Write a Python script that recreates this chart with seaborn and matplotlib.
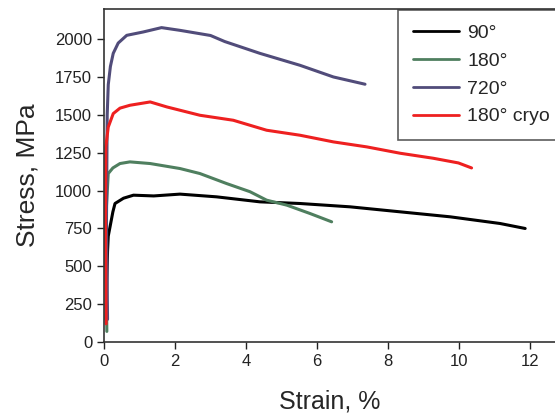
import pandas as pd
import seaborn as sns
import matplotlib.pyplot as plt

# values
strain_90 = [0.06, 0.08, 0.10, 0.12, 0.17, 0.25, 0.31, 0.55, 0.83, 1.4, 2.14, 3.17, 4.39, 5.52, 6.93, 8.34, 9.75, 11.15, 11.86]
stress_90 = [150, 420, 600, 700, 761, 860, 915, 950, 970, 965, 977, 959, 926, 915, 893, 860, 827, 783, 750]

strain_180 = [0.08, 0.06, 0.07, 0.12, 0.25, 0.45, 0.73, 1.3, 2.14, 2.7, 3.45, 4.11, 4.58, 5.15, 5.8, 6.41]
stress_180 = [70, 500, 900, 1113, 1150, 1179, 1190, 1179, 1146, 1113, 1047, 993, 937, 904, 849, 794]

strain_720 = [0.10, 0.07, 0.09, 0.12, 0.18, 0.26, 0.4, 0.64, 1.1, 1.62, 2.14, 3.0, 3.4, 4.39, 5.52, 6.46, 7.35]
stress_720 = [150, 800, 1500, 1700, 1820, 1907, 1975, 2026, 2048, 2077, 2059, 2025, 1985, 1907, 1828, 1751, 1703]

strain_cryo = [0.06, 0.04, 0.05, 0.12, 0.26, 0.45, 0.73, 1.3, 1.77, 2.7, 3.64, 4.58, 5.52, 6.46, 7.4, 8.34, 9.27, 9.98, 10.35]
stress_cryo = [120, 800, 1289, 1420, 1509, 1545, 1564, 1586, 1553, 1498, 1465, 1399, 1366, 1322, 1289, 1247, 1214, 1183, 1150]

labels = ["90°", "180°", "720°", "180° cryo"]
colors = ["#000000", "#4f7f5f", "#514c7a", "#ee2020"]

frames = []
for lab, xs, ys in zip(labels,
                       [strain_90, strain_180, strain_720, strain_cryo],
                       [stress_90, stress_180, stress_720, stress_cryo]):
    frames.append(pd.DataFrame({"strain": xs, "stress": ys, "sample": lab}))
data = pd.concat(frames, ignore_index=True)

sns.set_style("ticks")
plt.rcParams["font.family"] = ["Liberation Sans", "DejaVu Sans"]

fig = plt.figure(figsize=(5.55, 4.16), dpi=100)
ax = fig.add_axes([104 / 555, 74 / 416, 451 / 555, 333 / 416])

sns.lineplot(data=data, x="strain", y="stress", hue="sample",
             palette=dict(zip(labels, colors)), hue_order=labels,
             sort=False, estimator=None, linewidth=2.2, ax=ax)

ax.set_xlim(0, 12.7)
ax.set_ylim(0, 2200)
ax.set_xticks(range(0, 13, 2))
ax.set_yticks(range(0, 2001, 250))
ax.tick_params(labelsize=12, length=5, width=1, colors="#222222", direction="out")
ax.set_xlabel("Strain, %", fontsize=18, labelpad=15)
ax.set_ylabel("Stress, MPa", fontsize=19, labelpad=11)
for s in ["left", "bottom", "top"]:
    ax.spines[s].set_linewidth(1.2)
    ax.spines[s].set_color("#333333")
ax.spines["right"].set_visible(False)

leg = ax.legend(loc="upper left", bbox_to_anchor=(0.652, 0.997), fontsize=14,
                frameon=True, fancybox=False, edgecolor="#333333",
                borderaxespad=0, handlelength=2.4, handletextpad=0.4,
                borderpad=0.75, labelspacing=0.52)
leg.get_frame().set_linewidth(1.2)
for line in leg.get_lines():
    line.set_linewidth(2)

fig.savefig("out.png", dpi=100)
